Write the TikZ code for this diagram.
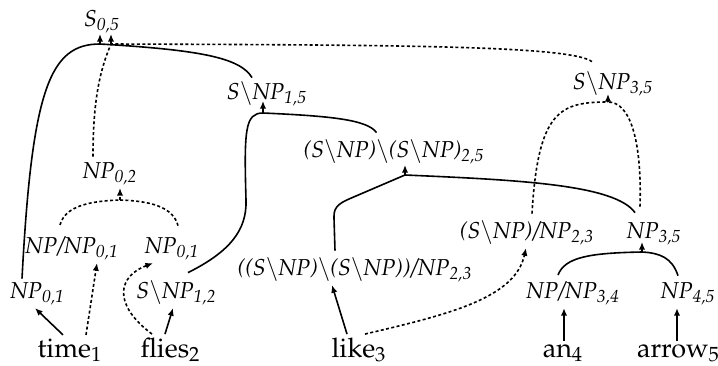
\documentclass[tikz,border=0pt]{standalone}
\usepackage[T1]{fontenc}
\usepackage{mathpazo}
\usetikzlibrary{arrows.meta,calc}

\newcommand{\bsl}{\ensuremath{\backslash}}

\begin{document}
\begin{tikzpicture}[x=0.5pt,y=-0.5pt,
  cat/.style={inner sep=1.5pt, anchor=base, font=\fontsize{11.5}{14}\selectfont\itshape},
  word/.style={inner sep=1.5pt, anchor=base, font=\fontsize{13.5}{16}\selectfont},
  link/.style={line width=0.8pt},
  alt/.style={line width=0.8pt, dash pattern=on 1.5pt off 1.2pt},
  tip/.style={-{Latex[length=3.8pt,width=3.2pt]}},
]
\useasboundingbox (0,0) rectangle (718,365);

% categories
\node[cat] (S05)    at (102,26)  {S\textsubscript{0,5}};
\node[cat] (SNP15)  at (267,99)  {S\bsl NP\textsubscript{1,5}};
\node[cat] (NP02)   at (110,178) {NP\textsubscript{0,2}};
\node[cat] (SNP25)  at (394,157) {(S\bsl NP)\bsl(S\bsl NP)\textsubscript{2,5}};
\node[cat] (SNP35)  at (613,89)  {S\bsl NP\textsubscript{3,5}};
\node[cat] (NPNP01) at (72,253)  {NP/NP\textsubscript{0,1}};
\node[cat] (NP01b)  at (172,253) {NP\textsubscript{0,1}};
\node[cat] (NP01a)  at (37.5,298) {NP\textsubscript{0,1}};
\node[cat] (SNP12)  at (176.5,298) {S\bsl NP\textsubscript{1,2}};
\node[cat] (BIG)    at (355,275) {((S\bsl NP)\bsl(S\bsl NP))/NP\textsubscript{2,3}};
\node[cat] (SNPNP23) at (527,238) {(S\bsl NP)/NP\textsubscript{2,3}};
\node[cat] (NP35)   at (654,238) {NP\textsubscript{3,5}};
\node[cat] (NPNP34) at (573,298) {NP/NP\textsubscript{3,4}};
\node[cat] (NP45)   at (688,298) {NP\textsubscript{4,5}};

% words
\node[word] (time)  at (70,357)    {time\textsubscript{1}};
\node[word] (flies) at (170.5,357) {flies\textsubscript{2}};
\node[word] (like)  at (359,357)   {like\textsubscript{3}};
\node[word] (an)    at (563,357)   {an\textsubscript{4}};
\node[word] (arrow) at (678.5,357) {arrow\textsubscript{5}};

% combination points
\coordinate (jS05s)  at (100,44);
\coordinate (jS05d)  at (111,44);
\coordinate (jSNP15) at (263,113);
\coordinate (jNP02)  at (120,200);
\coordinate (jSNP25) at (405,175);
\coordinate (jSNP35) at (608,102);
\coordinate (jNP35)  at (642,252);

% lexical arrows
\draw[link,tip] ($(time.north)+(-7,0)$) -- ($(NP01a.south)+(-2.5,0)$);
\draw[alt,tip]  ($(time.north)+(16,0)$) -- ($(NPNP01.south)+(25,0)$);
\draw[alt,tip]  ($(flies.north)+(-18.5,0)$) .. controls +(-40,-30) and +(-35,13) .. ($(NP01b.south)+(-19,0)$);
\draw[link,tip] ($(flies.north)+(-5.5,0)$) -- ($(SNP12.south)+(-3.5,0)$);
\draw[link,tip] ($(like.north)+(-12,0)$) -- ($(BIG.south)+(-23,0)$);
\draw[alt,tip]  ($(like.north)+(6,0)$) .. controls +(85,-20) and +(-11,50) .. ($(SNPNP23.south)+(-1,0)$);
\draw[link,tip] ($(an.north)+(1,0)$) -- ($(NPNP34.south)+(-9,0)$);
\draw[link,tip] ($(arrow.north)+(-1.5,0)$) -- ($(NP45.south)+(-11,0)$);

% solid derivation
\draw[link] ($(NP01a.north)+(-15.5,0)$) .. controls +(10,-190) and +(-50,0) .. (jS05s);
\draw[link] ($(SNP15.north)+(-15,0)$) .. controls +(-12,-20) and +(100,6) .. (jS05s);
\draw[link,tip] (jS05s) -- ++(0,-10);

\draw[link] ($(SNP12.north)+(11.5,-4)$) .. controls +(42,-21) and +(1,30) .. (246,200)
  .. controls +(-2,-70) and +(-18,0) .. (jSNP15);
\draw[link] ($(SNP25.north)+(-17.5,-3)$) .. controls +(-9,-13) and +(67,3) .. (jSNP15);
\draw[link,tip] (jSNP15) -- ++(0,-12);

\draw[link] ($(BIG.north)+(-20,-3)$) -- (334,218) .. controls (333,205) and (342,202) .. (356,196) -- (jSNP25);
\draw[link] ($(NP35.north)+(-19,-6)$) .. controls +(-20,-28) and +(115,5) .. (jSNP25);
\draw[link,tip] (jSNP25) -- ++(0,-10);

\draw[link] ($(NPNP34.north)+(-15,-3)$) .. controls +(7,-18) and +(-52,1) .. (jNP35);
\draw[link] ($(NP45.north)+(-10,-3)$) .. controls +(-6,-18) and +(18,1) .. (jNP35);
\draw[link,tip] (jNP35) -- ++(0,-10);

% dashed derivation
\draw[alt] ($(NPNP01.north)+(-12,-8)$) .. controls +(5,-19) and +(-30,1) .. (jNP02);
\draw[alt] ($(NP01b.north)+(6,-8)$) .. controls +(-5,-19) and +(30,1) .. (jNP02);
\draw[alt,tip] (jNP02) -- ++(0,-12);

\draw[alt] ($(SNPNP23.north)+(5,-3)$) .. controls +(6,-103) and +(-48,0) .. (jSNP35);
\draw[alt] ($(NP35.north)+(-14,-12)$) .. controls +(2,-67) and +(22,0) .. (jSNP35);
\draw[alt,tip] (jSNP35) -- ++(0,-8);

\draw[alt] ($(NP02.north)+(-17,-2)$) .. controls +(0,-57) and +(-11,26) .. (jS05d);
\draw[alt] ($(SNP35.north)+(-21,-6)$) .. controls +(-22,-16) and +(289,1) .. (jS05d);
\draw[alt,tip] (jS05d) -- ++(0,-10);
\end{tikzpicture}
\end{document}
